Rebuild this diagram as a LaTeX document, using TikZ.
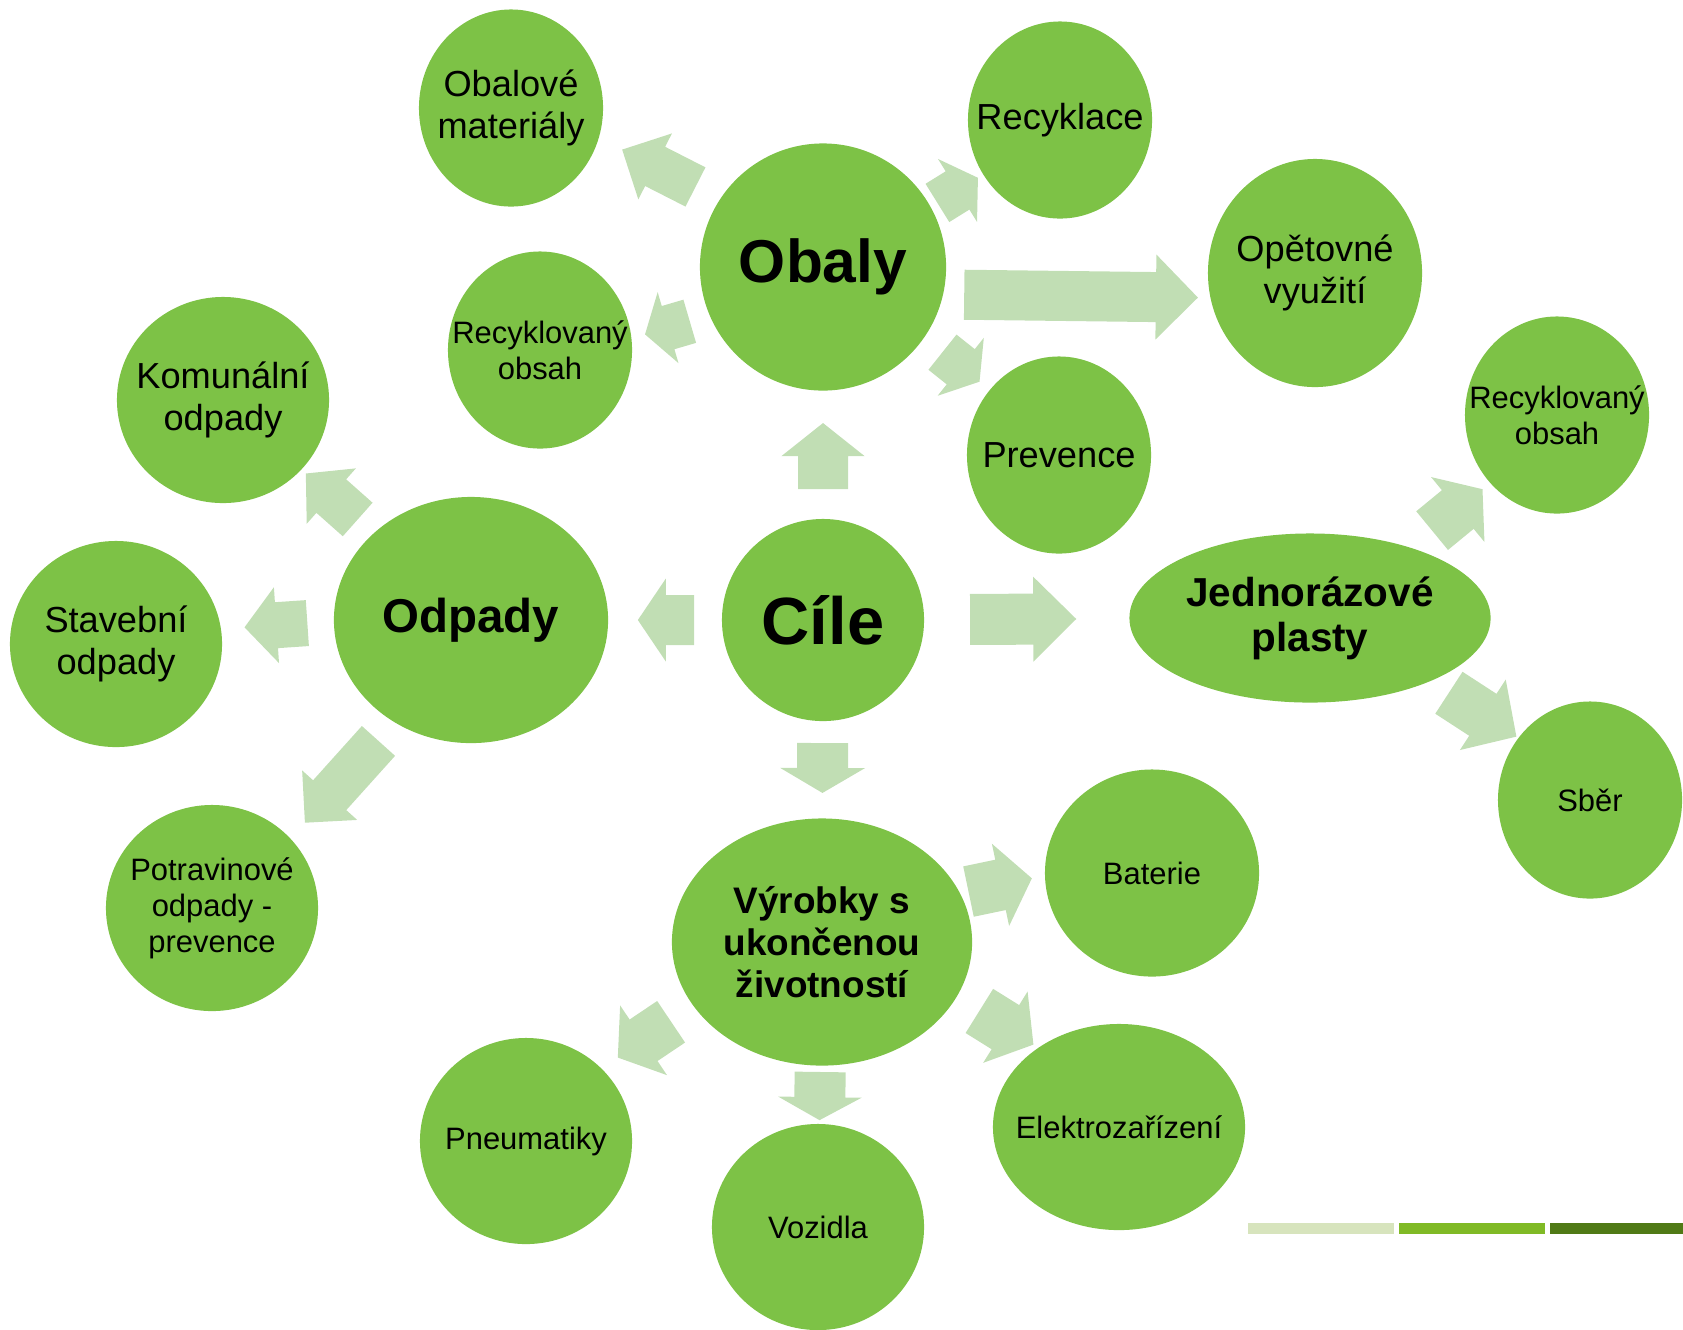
\documentclass[tikz,border=0pt]{standalone}
\usepackage{fontspec}
\setmainfont{Liberation Sans}
\usetikzlibrary{calc, shapes.geometric}

\definecolor{leaf}{RGB}{125,194,70}
\definecolor{pale}{RGB}{193,222,180}
\definecolor{barlight}{RGB}{215,228,189}
\definecolor{barmid}{RGB}{128,186,38}
\definecolor{bardark}{RGB}{80,122,22}

% from, to, start, end, shift, half shaft, half head, head length
\newcommand\blockarrow[8]{%
  \coordinate (ta) at ($(#1)!#3!(#2)+#5$);
  \coordinate (tp) at ($(#1)!#4!(#2)+#5$);
  \coordinate (hb) at ($(tp)!#8!(ta)$);
  \fill[pale] ($(ta)!#6!90:(tp)$) -- ($(hb)!#6!-90:(ta)$) -- ($(hb)!#7!-90:(ta)$) -- (tp)
    -- ($(hb)!#7!90:(ta)$) -- ($(hb)!#6!90:(ta)$) -- ($(ta)!#6!-90:(tp)$) -- cycle;
}

\begin{document}
\begin{tikzpicture}[x=0.01cm, y=-0.01cm,
    bubble/.style={ellipse, fill=leaf, inner xsep=-1.3cm, inner ysep=-1.1cm, outer sep=0pt, align=center},
    itemfont/.style={font=\fontsize{10.3}{12}\selectfont},
    notefont/.style={font=\fontsize{8.8}{10.2}\selectfont},
    leafsize/.style={minimum width=1.84cm, minimum height=1.97cm},
    roundsize/.style={minimum width=2.12cm, minimum height=2.06cm}]
  \useasboundingbox (0,0) rectangle (1683,1329);

  \node [bubble, font=\bfseries\fontsize{19}{22}\selectfont, minimum width=2.02cm, minimum height=2.02cm] (cile) at (823,620) {Cíle};
  \node [bubble, font=\bfseries\fontsize{17.2}{20}\selectfont, minimum width=2.46cm, minimum height=2.47cm] (obaly) at (823,267) {Obaly};
  \node [bubble, font=\bfseries\fontsize{13.5}{16}\selectfont, minimum width=2.74cm, minimum height=2.46cm] (odpady) at (471,620) {Odpady};
  \node [bubble, font=\bfseries\fontsize{11.5}{12.8}\selectfont, minimum width=3.61cm, minimum height=1.69cm] (plasty) at (1310,618) {Jednorázové\\plasty};
  \node [bubble, font=\bfseries\fontsize{10.5}{12}\selectfont, minimum width=3cm, minimum height=2.47cm] (vyrobky) at (822,942) {Výrobky s\\ukončenou\\životností};

  \node [bubble, itemfont, leafsize] (obmat) at (511,108) {Obalové\\materiály};
  \node [bubble, itemfont, leafsize] (recyklace) at (1060,120) {Recyklace};
  \node [bubble, notefont, leafsize] (recobsahA) at (540,350) {Recyklovaný\\obsah};
  \node [bubble, itemfont, minimum width=2.14cm, minimum height=2.28cm] (opetovne) at (1315,273) {Opětovné\\využití};
  \node [bubble, itemfont, leafsize] (prevence) at (1059,455) {Prevence};

  \node [bubble, itemfont, roundsize] (komunalni) at (223,400) {Komunální\\odpady};
  \node [bubble, itemfont, roundsize] (stavebni) at (116,644) {Stavební\\odpady};
  \node [bubble, notefont, roundsize] (potravinove) at (212,908) {Potravinové\\odpady -\\prevence};

  \node [bubble, notefont, leafsize] (recobsahB) at (1557,415) {Recyklovaný\\obsah};
  \node [bubble, notefont, leafsize] (sber) at (1590,800) {Sběr};

  \node [bubble, notefont, minimum width=2.14cm, minimum height=2.07cm] (baterie) at (1152,873) {Baterie};
  \node [bubble, notefont, minimum width=2.52cm, minimum height=2.06cm] (elektro) at (1119,1127) {Elektrozařízení};
  \node [bubble, notefont, roundsize] (pneumatiky) at (526,1141) {Pneumatiky};
  \node [bubble, notefont, roundsize] (vozidla) at (818,1227) {Vozidla};

  \blockarrow{cile}{obaly}{0.371}{0.558}{(0,0)}{0.25cm}{0.415cm}{0.33cm}
  \blockarrow{cile}{vyrobky}{0.382}{0.537}{(0,0)}{0.255cm}{0.425cm}{0.25cm}
  \blockarrow{cile}{odpady}{0.366}{0.526}{(0,0)}{0.25cm}{0.415cm}{0.28cm}
  \blockarrow{cile}{plasty}{0.302}{0.52}{(0,0)}{0.255cm}{0.425cm}{0.43cm}

  \blockarrow{obaly}{opetovne}{0.287}{0.762}{(0,26)}{0.25cm}{0.425cm}{0.42cm}
  \blockarrow{obaly}{obmat}{0.428}{0.663}{(6,-12)}{0.22cm}{0.37cm}{0.37cm}
  \blockarrow{obaly}{recyklace}{0.47}{0.641}{(3,5)}{0.225cm}{0.37cm}{0.24cm}
  \blockarrow{obaly}{recobsahA}{0.485}{0.643}{(4,14)}{0.225cm}{0.37cm}{0.24cm}
  \blockarrow{obaly}{prevence}{0.485}{0.642}{(5,-6)}{0.225cm}{0.37cm}{0.24cm}

  \blockarrow{odpady}{komunalni}{0.457}{0.666}{(0,0)}{0.224cm}{0.37cm}{0.34cm}
  \blockarrow{odpady}{stavebni}{0.461}{0.638}{(0,-8)}{0.23cm}{0.38cm}{0.32cm}
  \blockarrow{odpady}{potravinove}{0.392}{0.676}{(9,8)}{0.223cm}{0.37cm}{0.37cm}

  \blockarrow{plasty}{recobsahB}{0.47}{0.674}{(6,8)}{0.25cm}{0.42cm}{0.32cm}
  \blockarrow{plasty}{sber}{0.471}{0.712}{(7,-11)}{0.25cm}{0.42cm}{0.4cm}

  \blockarrow{vyrobky}{baterie}{0.456}{0.648}{(-4,-19)}{0.257cm}{0.42cm}{0.32cm}
  \blockarrow{vyrobky}{elektro}{0.486}{0.668}{(13,-21)}{0.26cm}{0.42cm}{0.33cm}
  \blockarrow{vyrobky}{pneumatiky}{0.476}{0.656}{(-10,-15)}{0.25cm}{0.42cm}{0.31cm}
  \blockarrow{vyrobky}{vozidla}{0.456}{0.625}{(0,0)}{0.255cm}{0.417cm}{0.23cm}

  \fill [barlight] (1248,1223) rectangle (1394,1234);
  \fill [barmid] (1399,1223) rectangle (1545,1234);
  \fill [bardark] (1550,1223) rectangle (1683,1234);
\end{tikzpicture}
\end{document}
